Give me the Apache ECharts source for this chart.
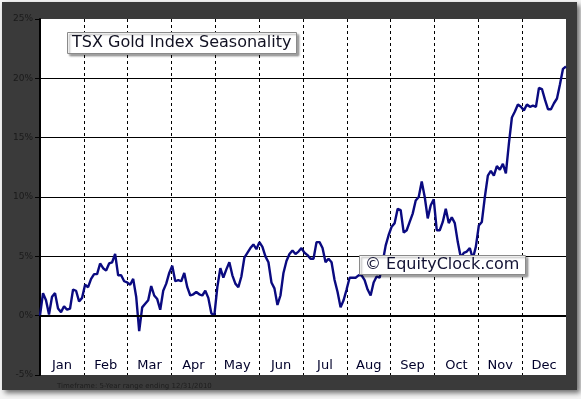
<!DOCTYPE html>
<html>
<head>
<meta charset="utf-8">
<script src="https://cdn.jsdelivr.net/npm/echarts@6/dist/echarts.min.js"></script>
<style>
    html, body { margin: 0; padding: 0; background: #f4f4f4; }
    .frame {
        position: absolute; left: 2px; top: 2px; width: 575px; height: 388px;
        background: #3a3a3a; box-shadow: 3px 3px 5px rgba(0,0,0,0.55);
    }
    #seasonChart { position: absolute; left: 0; top: 0; width: 581px; height: 399px; }
</style>
</head>
<body>
<div class="frame"></div>
<div id="seasonChart"></div>
<script>
    // month names along the bottom
    var monthLabels = ['Jan','Feb','Mar','Apr','May','Jun','Jul','Aug','Sep','Oct','Nov','Dec']
    // y axis range / step (percent)
    var yMin = -5
    var yMax = 25
    var yStep = 5
    // average seasonal gain (%) through the year, evenly spaced from Jan 1 to Dec 31
    var seasonalGain = [
        0.0, 1.9, 1.3, 0.1, 1.6, 1.9, 0.6, 0.3, 0.8, 0.5, 0.6, 2.2, 2.1, 1.2, 1.5,
        2.6, 2.4, 3.1, 3.5, 3.5, 4.4, 4.0, 3.8, 4.4, 4.5, 5.2, 3.4, 3.4, 2.9, 2.8,
        2.6, 3.1, 1.6, -1.3, 0.7, 1.0, 1.3, 2.5, 1.7, 1.4, 0.5, 2.1, 2.7, 3.6, 4.2,
        2.9, 3.0, 2.9, 3.6, 2.4, 1.7, 1.8, 2.0, 1.8, 1.7, 2.1, 1.5, 0.2, 0.0, 2.4,
        4.0, 3.2, 3.9, 4.5, 3.4, 2.7, 2.4, 3.3, 4.9, 5.3, 5.7, 6.0, 5.6, 6.2, 5.8,
        5.0, 4.5, 2.8, 2.3, 0.9, 1.7, 3.6, 4.6, 5.2, 5.5, 5.2, 5.4, 5.7, 5.3, 5.1,
        4.8, 4.8, 6.2, 6.2, 5.7, 4.5, 4.8, 4.5, 3.0, 2.0, 0.7, 1.3, 2.2, 3.2, 3.2,
        3.2, 3.4, 3.4, 3.0, 2.2, 1.7, 2.8, 3.3, 3.2, 4.5, 5.9, 6.8, 7.5, 7.8, 9.0,
        8.9, 7.0, 7.2, 7.9, 8.6, 9.7, 10.0, 11.3, 10.0, 8.2, 9.3, 9.8, 7.2, 7.2, 7.9,
        9.0, 7.8, 8.3, 7.8, 6.2, 4.9, 5.3, 5.4, 5.7, 4.8, 5.8, 7.6, 7.9, 10.0, 11.8,
        12.2, 11.8, 12.6, 12.3, 12.8, 12.0, 14.5, 16.7, 17.2, 17.8, 17.6, 17.3, 17.8, 17.6, 17.7,
        17.6, 19.2, 19.1, 18.2, 17.4, 17.4, 17.9, 18.3, 19.5, 20.8, 21.0
    ]

    var myChart = echarts.init(document.getElementById('seasonChart'))

    // spread the points over the 12 months of the year
    var lineData = seasonalGain.map(function (v, i) {
        return [i * 12 / (seasonalGain.length - 1), v]
    })

    var option = {
        animation: false,
        textStyle: { fontFamily: 'DejaVu Sans, Verdana, sans-serif' },
        grid: {
            left: 40, right: 15, top: 19, bottom: 24,
            show: true, backgroundColor: '#ffffff', borderWidth: 0
        },
        title: [
            {
                text: 'TSX Gold Index Seasonality',
                left: 67, top: 32,
                padding: [3, 5, 3, 5],
                backgroundColor: '#ffffff',
                borderColor: '#8a8a8a', borderWidth: 1,
                shadowColor: 'rgba(0,0,0,0.35)', shadowOffsetX: 2, shadowOffsetY: 2, shadowBlur: 2,
                textStyle: { fontSize: 16, fontWeight: 'normal', color: '#111122', fontFamily: 'DejaVu Sans, Verdana, sans-serif' }
            },
            {
                text: '\u00a9 EquityClock.com',
                left: 359, top: 255,
                padding: [2, 6, 2, 6],
                backgroundColor: '#ffffff',
                borderColor: '#8a8a8a', borderWidth: 1,
                shadowColor: 'rgba(0,0,0,0.35)', shadowOffsetX: 2, shadowOffsetY: 2, shadowBlur: 2,
                textStyle: { fontSize: 16, fontWeight: 'normal', color: '#111133', fontFamily: 'DejaVu Sans, Verdana, sans-serif' }
            }
        ],
        graphic: [
            {
                type: 'text', left: 57, top: 383,
                style: {
                    text: 'Timeframe: 5-Year range ending 12/31/2010',
                    fill: '#1e1e1e', fontSize: 7, fontFamily: 'DejaVu Sans, Verdana, sans-serif'
                }
            }
        ],
        xAxis: [
            {
                type: 'value', min: 0, max: 12, interval: 1,
                axisLine: { show: false },
                axisTick: { show: false },
                axisLabel: { show: false },
                splitLine: {
                    show: true, showMinLine: false, showMaxLine: false,
                    lineStyle: { color: '#000', width: 1, type: [3, 3] }
                }
            },
            {
                type: 'category', data: monthLabels, boundaryGap: true,
                position: 'bottom',
                axisLine: { show: false },
                axisTick: { show: false },
                splitLine: { show: false },
                axisLabel: { inside: true, margin: 3, fontSize: 13, color: '#00002a' }
            }
        ],
        yAxis: {
            type: 'value', min: yMin, max: yMax, interval: yStep,
            axisLine: { show: true, onZero: false, lineStyle: { color: '#000', width: 2 } },
            axisTick: { show: true, length: 5, lineStyle: { color: '#000', width: 1 } },
            axisLabel: { formatter: '{value}%', fontSize: 9, color: '#1a1a1a', margin: 7 },
            splitLine: {
                show: true, showMinLine: false, showMaxLine: false,
                lineStyle: {
                    color: '#000',
                    width: 1
                }
            }
        },
        series: [
            {
                type: 'line',
                xAxisIndex: 0,
                data: lineData,
                symbol: 'none',
                lineStyle: { color: '#0a0a80', width: 2.4 },
                markLine: {
                    silent: true, symbol: 'none', label: { show: false },
                    lineStyle: { color: '#000', width: 2, type: 'solid' },
                    data: [{ yAxis: 0 }]
                },
                z: 3
            }
        ]
    }
    myChart.setOption(option)
</script>
</body>
</html>
